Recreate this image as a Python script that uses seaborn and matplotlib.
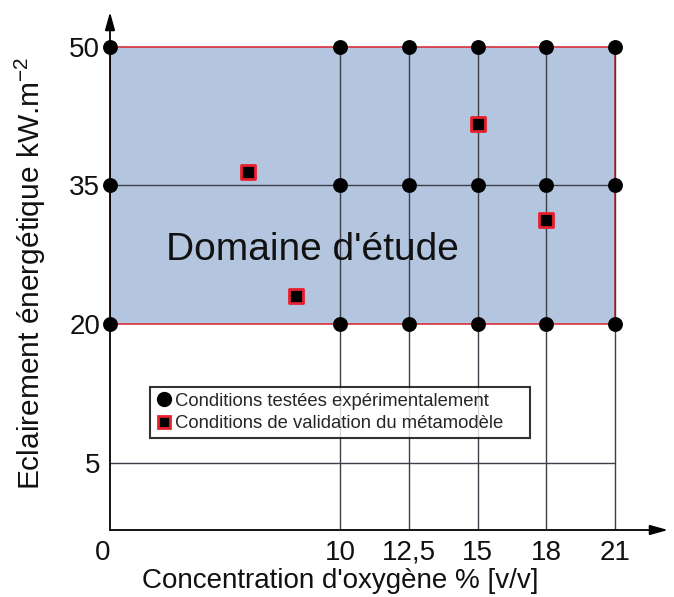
import numpy as np
import pandas as pd
import seaborn as sns
import matplotlib.pyplot as plt
from matplotlib.lines import Line2D

# ---- data ----
o2_levels = [0, 10, 12.5, 15, 18, 21]          # % v/v
flux_levels = [20, 35, 50]                       # kW.m-2
valid_o2 = [6.0, 8.1, 15.0, 18.0]
valid_flux = [36.5, 23.0, 41.7, 31.3]
xtick_vals = [0, 10, 12.5, 15, 18, 21]
xtick_labels = ['0', '10', '12,5', '15', '18', '21']
ytick_vals = [5, 20, 35, 50]
hline_vals = [5, 35]
legend_labels = ['Conditions testées expérimentalement',
                 'Conditions de validation du métamodèle']

sns.set_theme(style='white')
plt.rcParams['font.family'] = ['Liberation Sans', 'DejaVu Sans']
plt.rcParams['mathtext.fontset'] = 'custom'
plt.rcParams['mathtext.rm'] = 'Liberation Sans'
plt.rcParams['mathtext.it'] = 'Liberation Sans'

# piecewise scale: 0-10 is squeezed compared with the 10-21 part
seg_x = [0, 10, 12.5, 15, 18, 21, 24]
seg_p = [0, 3.345, 4.345, 5.345, 6.345, 7.345, 8.345]
def fwd(v):
    return np.interp(v, seg_x, seg_p, left=np.nan)
def inv(p):
    return np.interp(p, seg_p, seg_x)

grid = pd.DataFrame([(x, y) for y in flux_levels for x in o2_levels], columns=['o2', 'flux'])
valid = pd.DataFrame({'o2': valid_o2, 'flux': valid_flux})

fig = plt.figure(figsize=(6.74, 5.97), dpi=100)
ax = fig.add_axes([110/674, 1-530/597, 558/674, 518/597])
ax.set_xscale('function', functions=(fwd, inv))
ax.set_xlim(0, 23.3)
ax.set_ylim(-2.31, 53.79)

# study domain
ax.fill_between([0, 21], 20, 50, facecolor='#b3c5df', edgecolor='none', zorder=1)
ax.plot([0, 21, 21, 0, 0], [20, 20, 50, 50, 20], color='#d8303c', lw=1.2, zorder=2)

# grid lines
for x in o2_levels[1:]:
    ax.plot([x, x], [-2.31, 50], color='#3a3f48', lw=1.0, zorder=2)
for y in hline_vals:
    ax.plot([0, 21], [y, y], color='#3a3f48', lw=1.0, zorder=2)

sns.scatterplot(data=grid, x='o2', y='flux', ax=ax, color='black', marker='o',
                s=115, linewidth=0, zorder=5, clip_on=False, legend=False)
sns.scatterplot(data=valid, x='o2', y='flux', ax=ax, color='black', marker='s',
                s=95, edgecolor='#e8202e', linewidth=2.0, zorder=5, legend=False)

ax.text(8.8, 28.0, "Domaine d'étude", fontsize=28, ha='center', va='center',
        color='#111111', zorder=4)

# axes with arrows
for s in ax.spines.values():
    s.set_visible(False)
ax.annotate('', xy=(0, 1.0), xytext=(0, 0), xycoords='axes fraction',
            arrowprops=dict(arrowstyle='-|>,head_length=0.9,head_width=0.25',
                            color='black', lw=1.3, shrinkA=0, shrinkB=0))
ax.annotate('', xy=(1.0, 0), xytext=(0, 0), xycoords='axes fraction',
            arrowprops=dict(arrowstyle='-|>,head_length=0.9,head_width=0.25',
                            color='black', lw=1.3, shrinkA=0, shrinkB=0))

ax.set_xticks(xtick_vals)
ax.set_xticklabels(xtick_labels)
ax.set_yticks(ytick_vals)
ax.tick_params(axis='both', length=0, labelsize=20, pad=7, colors='#111111')
ax.get_xticklabels()[0].set_horizontalalignment('right')
ax.minorticks_off()

ax.set_xlabel("Concentration d'oxygène % [v/v]", fontsize=20, color='#111111')
ax.xaxis.set_label_coords(0.412, -0.074)
ax.set_ylabel("Eclairement énergétique kW.m$^{-2}$", fontsize=21.5, color='#111111')
ax.yaxis.set_label_coords(-0.111, 0.496)

handles = [
    Line2D([], [], marker='o', color='black', ls='none', markersize=10),
    Line2D([], [], marker='s', color='black', ls='none', markersize=9,
           markeredgecolor='#e8202e', markeredgewidth=2.0),
]
leg = ax.legend(handles, legend_labels,
                loc='upper left', bbox_to_anchor=(0.0717, 0.0, 0.681, 0.276),
                mode='expand', borderaxespad=0,
                fontsize=13.3, frameon=True, fancybox=False, handletextpad=0.15,
                handlelength=0.9, borderpad=0.3, labelspacing=0.3)
leg.get_frame().set_edgecolor('black')
leg.get_frame().set_linewidth(1.5)
leg.set_zorder(6)

fig.savefig('out.png', dpi=100)
